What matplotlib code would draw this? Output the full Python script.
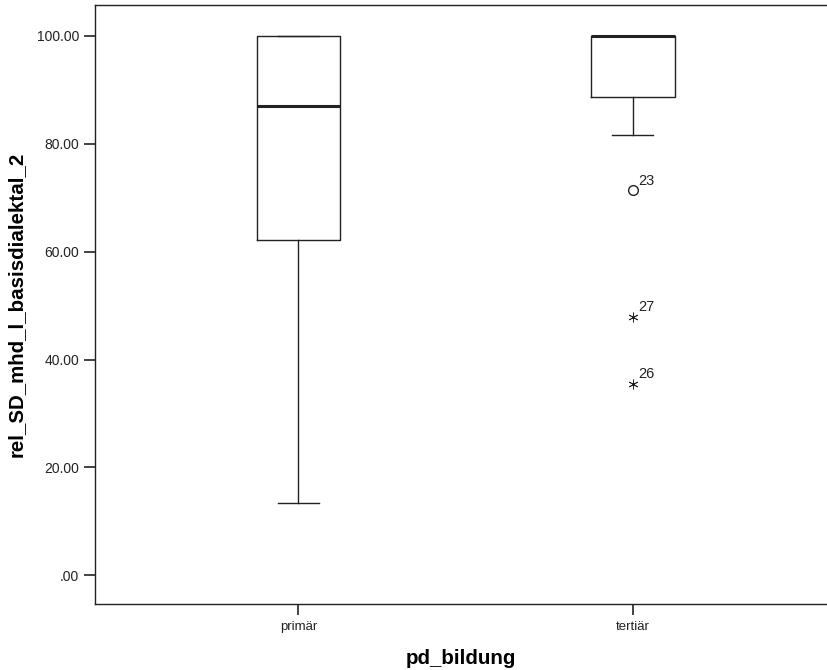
import matplotlib.pyplot as plt
from matplotlib.ticker import FuncFormatter

plt.rcParams['font.family'] = ['Liberation Sans', 'DejaVu Sans']

categories = ['primär', 'tertiär']
q1 = [62.1, 88.7]
median = [86.9, 100.0]
q3 = [100.0, 100.0]
whislo = [13.4, 81.7]
whishi = [100.0, 100.0]

# outliers: (group index, value, case label, kind)
out_group = [1, 1, 1]
out_value = [71.4, 47.9, 35.5]
out_label = ['23', '27', '26']
out_kind = ['o', '*', '*']

fig = plt.figure(figsize=(8.27, 6.7), dpi=100)
ax = fig.add_axes([95/827, 66/670, 732/827, 599/670])

stats = []
for i, c in enumerate(categories):
    stats.append(dict(label=c, q1=q1[i], med=median[i], q3=q3[i],
                      whislo=whislo[i], whishi=whishi[i], fliers=[]))

ink = '#222222'
ax.bxp(stats, positions=[1, 2], widths=0.25, showfliers=False,
       boxprops=dict(color=ink, linewidth=1.0),
       whiskerprops=dict(color=ink, linewidth=1.0),
       capprops=dict(color=ink, linewidth=1.0),
       medianprops=dict(color=ink, linewidth=2.2),
       capwidths=0.123)

for g, v, lab, k in zip(out_group, out_value, out_label, out_kind):
    x = g + 1
    if k == 'o':
        ax.plot(x, v, marker='o', ms=7, mfc='none', mec=ink, mew=1.0, ls='none')
    else:
        ax.plot(x, v, marker=(6, 2, 0), ms=7, color=ink, mew=0.6, ls='none')
    ax.annotate(lab, (x, v), xytext=(4, 4), textcoords='offset points',
                fontsize=10.5, color=ink)

ax.set_xlim(0.392, 2.581)
ax.set_ylim(-5.3, 105.7)
ax.set_yticks([0, 20, 40, 60, 80, 100])
ax.yaxis.set_major_formatter(FuncFormatter(lambda v, p: ('%.2f' % v).lstrip('0') if v == 0 else '%.2f' % v))
ax.set_xticks([1, 2])
ax.set_xticklabels(categories)

ax.spines['right'].set_visible(False)
for s in ['left', 'bottom', 'top']:
    ax.spines[s].set_color(ink)
    ax.spines[s].set_linewidth(1.0)
ax.tick_params(axis='both', direction='out', length=8, width=1.2, color=ink,
               labelcolor=ink, labelsize=10)
ax.tick_params(axis='x', labelsize=9.5, pad=4)

ax.set_ylabel('rel_SD_mhd_l_basisdialektal_2', fontsize=14.8, fontweight='bold', labelpad=8)
ax.set_xlabel('pd_bildung', fontsize=14.8, fontweight='bold', labelpad=12)

fig.savefig('out.png', dpi=100)
